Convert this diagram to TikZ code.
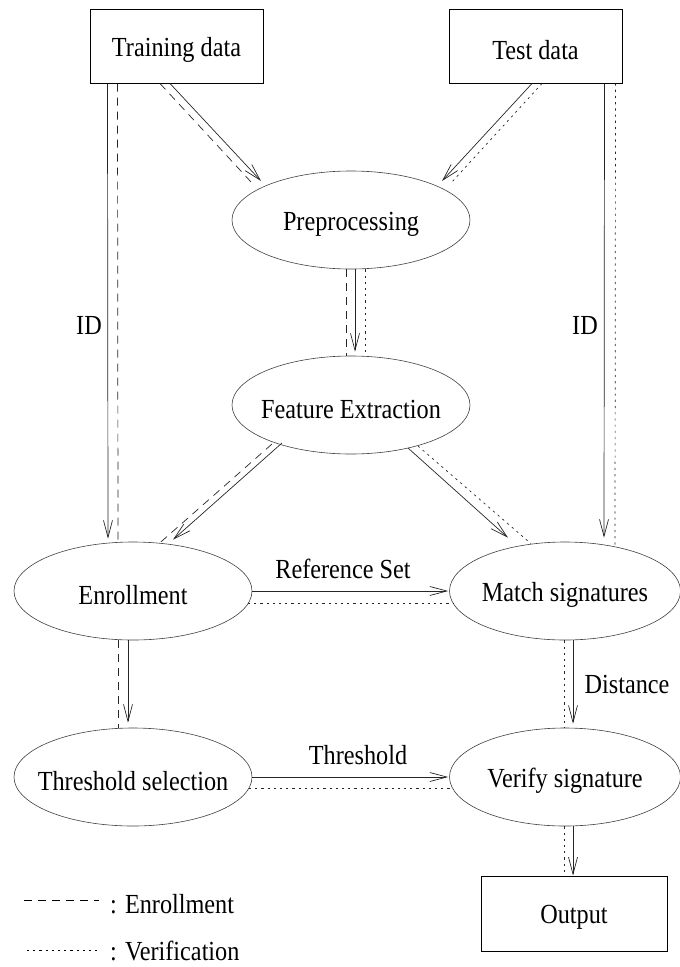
\documentclass[tikz,border=0pt]{standalone}
\usepackage{fontspec}
\setmainfont{Liberation Serif}
\newfontfamily\timesface{Liberation Serif}
\usepackage{graphicx}
\usetikzlibrary{shapes.geometric,arrows.meta,calc}
\newcommand{\tx}[1]{\scalebox{1.01}[1.15]{#1}}
\begin{document}
\begin{tikzpicture}[x=1pt,y=-1pt,
  every node/.style={font=\timesface\fontsize{24}{28}\selectfont, inner sep=0pt},
  databox/.style={draw=black, line width=1pt, rectangle},
  procell/.style={draw=black!75, line width=0.6pt, ellipse, minimum height=98pt},
  intext/.style={label={[yshift=-4pt]center:\tx{#1}}},
  conn/.style={draw=black!85, line width=0.7pt},
  arr/.style={conn, -{Straight Barb[length=17pt,width=9pt,line width=0.7pt]}},
  enrl/.style={conn, dash pattern=on 8pt off 6pt},
  verl/.style={conn, dash pattern=on 2.2pt off 4pt}
]
\useasboundingbox (0,0) rectangle (680,967);

% nodes
\node[databox, minimum width=173pt, minimum height=74pt, intext={Training data}] (train) at (176.5,46) {};
\node[databox, minimum width=173pt, minimum height=74pt, intext={Test data}] (test) at (535.5,46) {};
\node[procell, minimum width=238pt, intext={Preprocessing}] (pre) at (351,220) {};
\node[procell, minimum width=238pt, intext={Feature Extraction}] (fe) at (351,405) {};
\node[procell, minimum width=238pt, intext={Enrollment}] (enr) at (133,591) {};
\node[procell, minimum width=231pt, intext={Match signatures}] (match) at (565,591) {};
\node[procell, minimum width=238pt, intext={Threshold selection}] (thr) at (133,777) {};
\node[procell, minimum width=231pt, intext={Verify signature}] (ver) at (565,777) {};
\node[databox, minimum width=186pt, minimum height=75pt, intext={Output}] (out) at (574,913.5) {};

% Training data -> Enrollment (ID)
\draw[arr] ($(train.south west)+(18,0)$) -- ($(enr.north)+(-25,-3)$);
\draw[enrl] ($(train.south west)+(28,0)$) -- ($(enr.north)+(-15,0)$);
\node[anchor=east] (idl) at (102,325) {\tx{ID}};

% Test data -> Match signatures (ID)
\draw[arr] ($(test.south east)+(-18,0)$) -- ($(match.north)+(39,-4)$);
\draw[verl] ($(test.south east)+(-7,0)$) -- ($(match.north)+(50,3)$);
\node[anchor=east] (idr) at (598,325) {\tx{ID}};

% Training data -> Preprocessing
\draw[arr] ($(train.south)+(-6.5,0)$) -- ($(pre.center)+(-90,-39)$);
\draw[enrl] ($(train.south)+(-16.5,0)$) -- ($(pre.center)+(-99,-37)$);

% Test data -> Preprocessing
\draw[arr] ($(test.south)+(-3.5,0)$) -- ($(pre.center)+(91,-39)$);
\draw[verl] ($(test.south)+(6.5,0)$) -- ($(pre.center)+(100,-37)$);

% Preprocessing -> Feature Extraction
\draw[arr] ($(pre.south)+(4,0)$) -- ($(fe.north)+(4,-4)$);
\draw[enrl] ($(pre.south)+(-5,0)$) -- ($(fe.north)+(-5,0)$);
\draw[verl] ($(pre.south)+(14,0)$) -- ($(fe.north)+(14,0)$);

% Feature Extraction -> Enrollment
\draw[arr] ($(fe.center)+(-69,38)$) -- ($(enr.north)+(40,-2)$);
\draw[enrl] ($(fe.center)+(-79,39)$) -- ($(enr.north)+(27,1)$);

% Feature Extraction -> Match signatures
\draw[arr] ($(fe.center)+(57,43)$) -- ($(match.north)+(-57,-4)$);
\draw[verl] ($(fe.center)+(67,41)$) -- ($(match.north)+(-34,2)$);

% Enrollment -> Match signatures
\draw[arr] (enr.east) -- ($(match.west)+(-1,0)$);
\draw[verl] ($(enr.center)+(115,12)$) -- ($(match.center)+(-112,12)$);
\node (refset) at (343,569) {\tx{Reference Set}};

% Enrollment -> Threshold selection
\draw[arr] ($(enr.south)+(-5,0)$) -- ($(thr.north)+(-5,-5)$);
\draw[enrl] ($(enr.south)+(-15,0)$) -- ($(thr.north)+(-15,0)$);

% Match signatures -> Verify signature
\draw[arr] ($(match.south)+(8,0)$) -- ($(ver.north)+(8,-4)$);
\draw[verl] ($(match.south)+(-1,0)$) -- ($(ver.north)+(-1,0)$);
\node (dist) at (627,684) {\tx{Distance}};

% Threshold selection -> Verify signature
\draw[arr] (thr.east) -- ($(ver.west)+(-1,0)$);
\draw[verl] ($(thr.center)+(116,11)$) -- ($(ver.center)+(-112,11)$);
\node (thrl) at (358,755) {\tx{Threshold}};

% Verify signature -> Output
\draw[arr] ($(ver.south)+(8,0)$) -- ($(out.north)+(-1,0)$);
\draw[verl] ($(ver.south)+(-1,0)$) -- ($(out.north)+(-10,0)$);

% legend
\coordinate (lea) at (24,900);
\coordinate (leb) at (99,900);
\coordinate (lva) at (27,950);
\coordinate (lvb) at (97,950);
\draw[enrl, draw=black] (lea) -- (leb);
\draw[verl, draw=black, line width=0.5pt] (lva) -- (lvb);
\node[anchor=west] (legE) at (110,904) {\tx{: Enrollment}};
\node[anchor=west] (legV) at (110,951) {\tx{: Verification}};
\end{tikzpicture}
\end{document}
